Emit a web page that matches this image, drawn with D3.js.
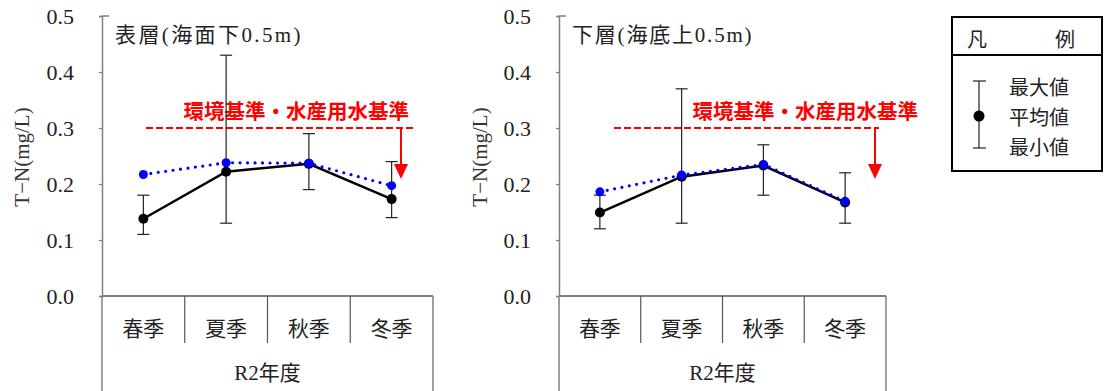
<!DOCTYPE html>
<html>
<head>
<meta charset="utf-8">
<script src="https://cdn.jsdelivr.net/npm/d3@7/dist/d3.min.js"></script>
<style>
  html, body { margin: 0; padding: 0; background: #fff; }
  svg { display: block; }
  .serif { font-family: "Liberation Serif", "DejaVu Serif", "Noto Sans CJK JP", serif; }
  .cjk { font-family: "Noto Sans CJK JP", sans-serif; }
</style>
</head>
<body>
<svg id="chart" width="1104" height="391"></svg>
<script>
// Seasons (R2 fiscal year)
const seasons = ["春季", "夏季", "秋季", "冬季"];
const yTicks = [0, 0.1, 0.2, 0.3, 0.4, 0.5];
const standardValue = 0.3;

// Surface layer (0.5 m below surface)
const surfaceMean = [0.138, 0.222, 0.236, 0.173];
const surfaceMax  = [0.18, 0.43, 0.29, 0.24];
const surfaceMin  = [0.11, 0.13, 0.19, 0.14];
const surfaceRef  = [0.217, 0.238, 0.237, 0.197];

// Bottom layer (0.5 m above seabed)
const bottomMean = [0.149, 0.213, 0.233, 0.167];
const bottomMax  = [0.18, 0.37, 0.27, 0.22];
const bottomMin  = [0.12, 0.13, 0.18, 0.13];
const bottomRef  = [0.186, 0.216, 0.235, 0.169];

const svg = d3.select("#chart");
const AXIS_GRAY = "#7f7f7f";
const fmt = d3.format(".1f");

const y = d3.scaleLinear().domain([0, 0.5]).range([296, 16]);

function panel(opt) {
  const g = svg.append("g");
  const x = d3.scaleBand().domain(seasons).range([opt.x0, opt.x1]);
  const cx = s => x(s) + x.bandwidth() / 2;

  // y axis: line and ticks from d3.axisLeft, labels set in serif
  const yAxis = d3.axisLeft(y).tickValues(yTicks).tickFormat("").tickSize(3);
  const ya = g.append("g").attr("transform", `translate(${opt.x0},0)`).call(yAxis);
  ya.select(".domain").attr("stroke", AXIS_GRAY).attr("stroke-width", 1.5);
  ya.selectAll(".tick line").attr("stroke", AXIS_GRAY).attr("stroke-width", 1.2);
  g.append("g").selectAll("text").data(yTicks).join("text")
    .attr("class", "serif")
    .attr("x", opt.labelRight).attr("y", d => y(d))
    .attr("text-anchor", "end").attr("dominant-baseline", "central")
    .style("font-size", "22px").attr("fill", "#222")
    .text(d => fmt(d));
  // inward cap at the top of the axis
  g.append("line").attr("x1", opt.x0).attr("x2", opt.x0 + 7).attr("y1", y(0.5)).attr("y2", y(0.5))
    .attr("stroke", AXIS_GRAY).attr("stroke-width", 1.5);

  // y title
  g.append("text").attr("class", "serif")
    .attr("transform", `translate(${opt.titleX},157) rotate(-90)`)
    .attr("text-anchor", "middle").attr("dominant-baseline", "central")
    .style("font-size", "21px").attr("fill", "#333")
    .text("T−N(mg/L)");

  // baseline and category table
  g.append("line").attr("x1", opt.x0).attr("x2", opt.x1).attr("y1", y(0)).attr("y2", y(0))
    .attr("stroke", AXIS_GRAY).attr("stroke-width", 2);
  g.selectAll(".div").data(seasons.slice(1)).join("line")
    .attr("x1", d => x(d)).attr("x2", d => x(d)).attr("y1", y(0)).attr("y2", 343)
    .attr("stroke", "#555").attr("stroke-width", 1.2);
  [opt.x0, opt.x1].forEach(px => {
    g.append("line").attr("x1", px).attr("x2", px).attr("y1", y(0)).attr("y2", 391)
      .attr("stroke", AXIS_GRAY).attr("stroke-width", 1.5);
  });
  g.selectAll(".cat").data(seasons).join("text").attr("class", "cjk")
    .attr("x", d => cx(d)).attr("y", 327)
    .attr("text-anchor", "middle").attr("dominant-baseline", "central")
    .style("font-size", "21px").attr("fill", "#222")
    .text(d => d);
  g.append("text").attr("class", "serif").attr("x", (opt.x0 + opt.x1) / 2).attr("y", 373)
    .attr("text-anchor", "middle").attr("dominant-baseline", "central")
    .style("font-size", "21px").attr("fill", "#222")
    .text("R2年度");

  // panel title
  g.append("text").attr("class", "serif").attr("x", opt.x0 + 13).attr("y", 35)
    .attr("dominant-baseline", "central")
    .style("letter-spacing", opt.titleSpacing + "px")
    .style("font-size", "21px").attr("fill", "#222")
    .text(opt.title);

  // standard line with label and arrow
  g.append("line").attr("x1", opt.stdX0).attr("x2", opt.stdX1)
    .attr("y1", y(standardValue)).attr("y2", y(standardValue))
    .attr("stroke", "#ff0000").attr("stroke-width", 2).attr("stroke-dasharray", "7,3");
  g.append("text").attr("class", "cjk").attr("x", opt.stdTextRight).attr("y", 110)
    .attr("text-anchor", "end").attr("dominant-baseline", "central")
    .style("font-weight", "bold").style("font-size", "20.5px").attr("fill", "#ff0000")
    .text("環境基準・水産用水基準");
  g.append("line").attr("x1", opt.arrowX).attr("x2", opt.arrowX)
    .attr("y1", y(standardValue)).attr("y2", 166)
    .attr("stroke", "#ff0000").attr("stroke-width", 2);
  g.append("path")
    .attr("d", `M${opt.arrowX - 7},164 L${opt.arrowX + 7},164 L${opt.arrowX},179 Z`)
    .attr("fill", "#ff0000");

  // error bars
  const eb = g.append("g");
  seasons.forEach((s, i) => {
    const px = cx(s);
    eb.append("line").attr("x1", px).attr("x2", px).attr("y1", y(opt.max[i])).attr("y2", y(opt.min[i]))
      .attr("stroke", "#222").attr("stroke-width", 1.2);
    [opt.max[i], opt.min[i]].forEach(v => {
      eb.append("line").attr("x1", px - 6).attr("x2", px + 6).attr("y1", y(v)).attr("y2", y(v))
        .attr("stroke", "#222").attr("stroke-width", 1.2);
    });
  });

  // mean line (black) and reference line (blue dotted)
  const line = vals => d3.line().x((d, i) => cx(seasons[i])).y(d => y(d))(vals);
  g.append("path").attr("d", line(opt.mean)).attr("fill", "none")
    .attr("stroke", "#000").attr("stroke-width", 2.5);
  g.selectAll(".mdot").data(opt.mean).join("circle")
    .attr("cx", (d, i) => cx(seasons[i])).attr("cy", d => y(d)).attr("r", 5).attr("fill", "#000");
  g.append("path").attr("d", line(opt.ref)).attr("fill", "none")
    .attr("stroke", "#0000ff").attr("stroke-width", 3.2)
    .attr("stroke-linecap", "round").attr("stroke-dasharray", "0,7.5");
  g.selectAll(".rdot").data(opt.ref).join("circle")
    .attr("cx", (d, i) => cx(seasons[i])).attr("cy", d => y(d)).attr("r", 4.5).attr("fill", "#0000ff");
}

panel({
  x0: 102, x1: 433, labelRight: 74, titleX: 22,
  title: "表層(海面下0.5m)", titleSpacing: 2.4,
  mean: surfaceMean, max: surfaceMax, min: surfaceMin, ref: surfaceRef,
  stdX0: 146, stdX1: 413, stdTextRight: 409, arrowX: 401
});
panel({
  x0: 559, x1: 886, labelRight: 531, titleX: 480,
  title: "下層(海底上0.5m)", titleSpacing: 1.8,
  mean: bottomMean, max: bottomMax, min: bottomMin, ref: bottomRef,
  stdX0: 614, stdX1: 879, stdTextRight: 918, arrowX: 875
});

// legend
const lg = svg.append("g");
lg.append("rect").attr("x", 952).attr("y", 17).attr("width", 150).attr("height", 154)
  .attr("fill", "#fff").attr("stroke", "#000").attr("stroke-width", 2);
lg.append("line").attr("x1", 952).attr("x2", 1102).attr("y1", 55).attr("y2", 55)
  .attr("stroke", "#000").attr("stroke-width", 2);
lg.append("text").attr("class", "cjk").attr("x", 967).attr("y", 38).attr("dominant-baseline", "central")
  .style("font-size", "20px").attr("fill", "#222").text("凡");
lg.append("text").attr("class", "cjk").attr("x", 1055).attr("y", 38).attr("dominant-baseline", "central")
  .style("font-size", "20px").attr("fill", "#222").text("例");
lg.append("line").attr("x1", 979).attr("x2", 979).attr("y1", 81).attr("y2", 148)
  .attr("stroke", "#222").attr("stroke-width", 1.2);
[81, 148].forEach(v => lg.append("line").attr("x1", 973).attr("x2", 986).attr("y1", v).attr("y2", v)
  .attr("stroke", "#222").attr("stroke-width", 1.2));
lg.append("circle").attr("cx", 979).attr("cy", 116).attr("r", 5.5).attr("fill", "#000");
const legendLabels = ["最大値", "平均値", "最小値"];
lg.selectAll(".ll").data(legendLabels).join("text").attr("class", "cjk")
  .attr("x", 1009).attr("y", (d, i) => 86 + i * 30).attr("dominant-baseline", "central")
  .style("font-size", "20px").attr("fill", "#222").text(d => d);
</script>
</body>
</html>
